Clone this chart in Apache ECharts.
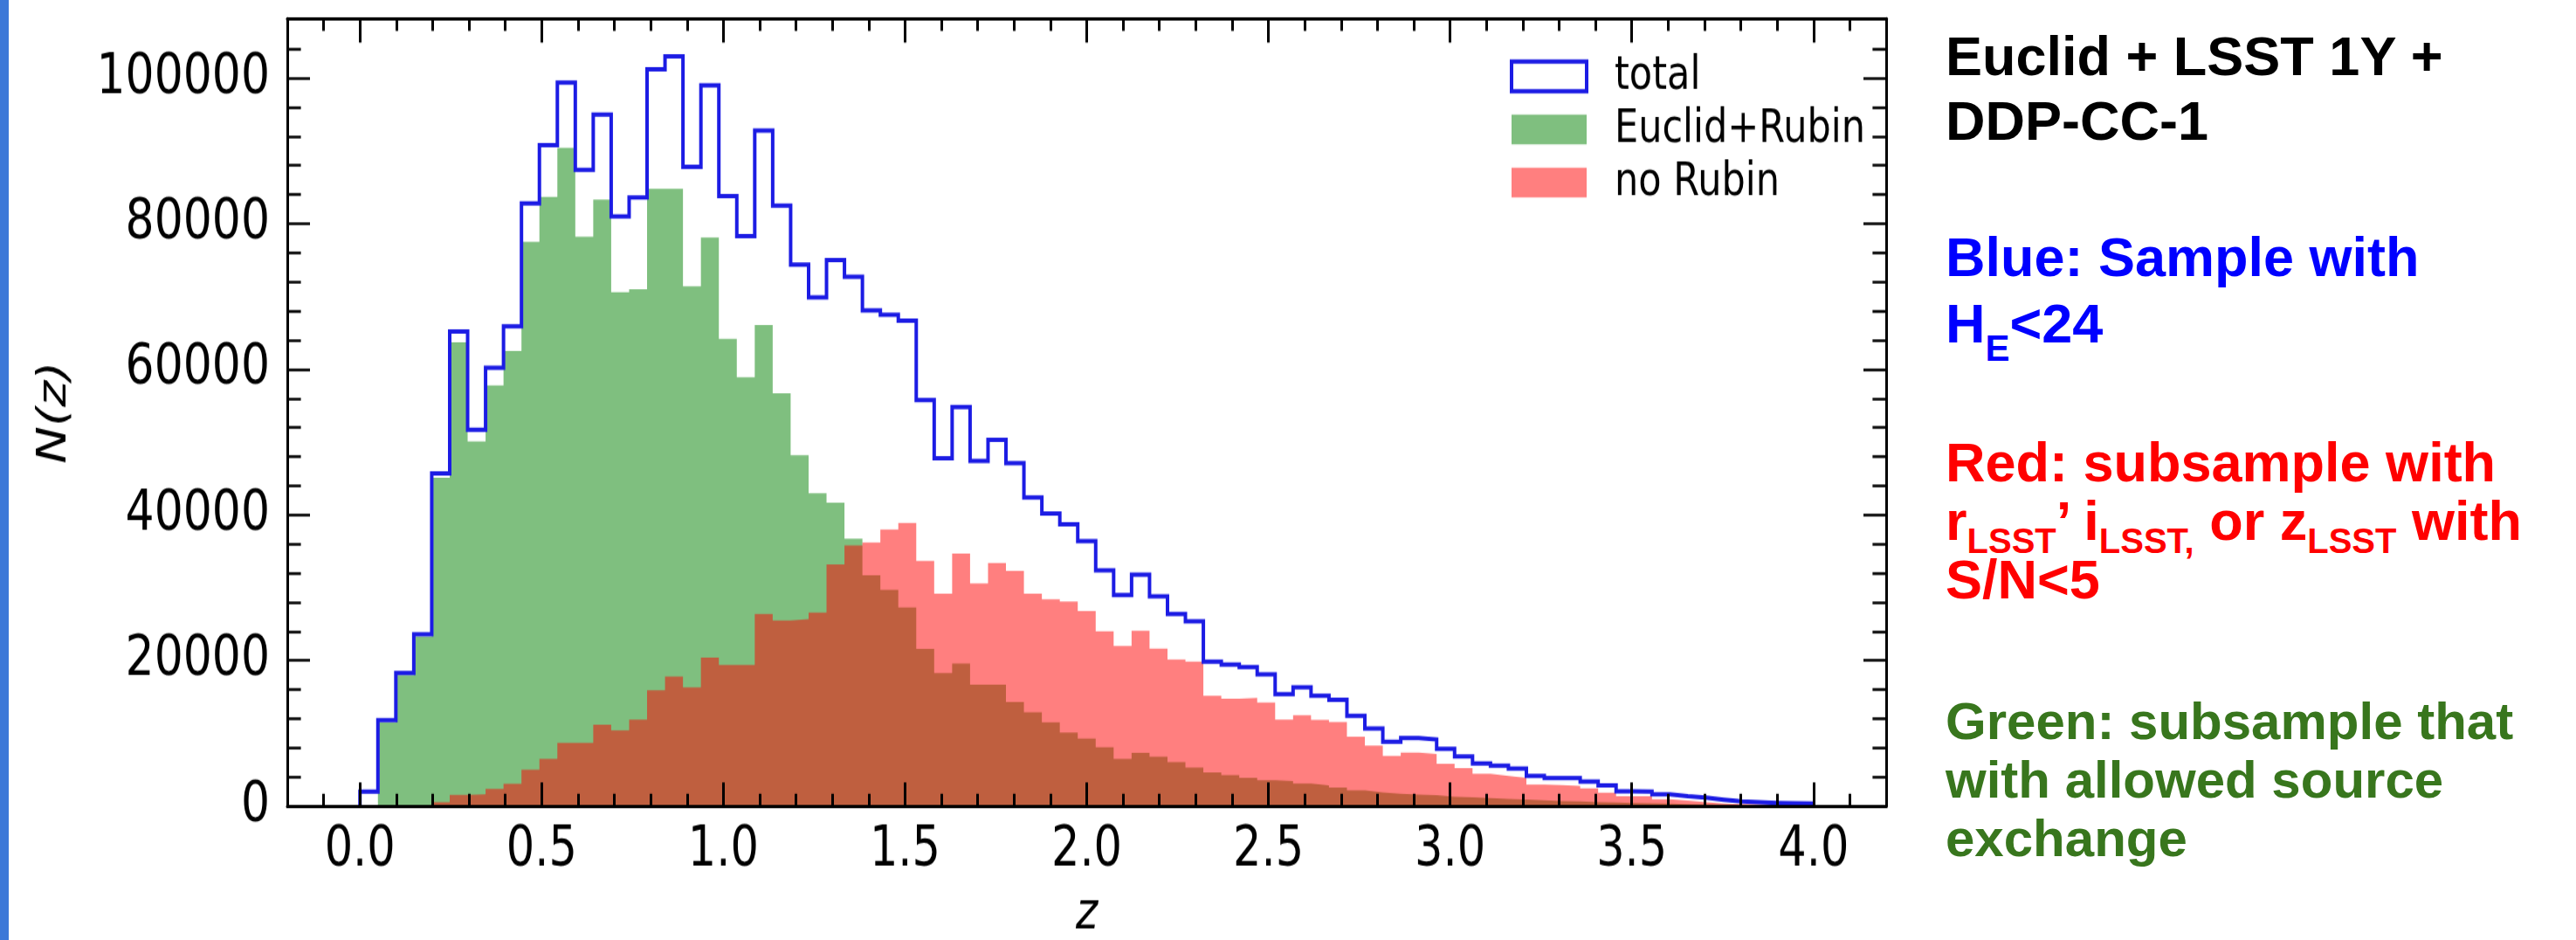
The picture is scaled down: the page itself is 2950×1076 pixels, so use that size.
<!DOCTYPE html>
<html>
<head>
<meta charset="utf-8">
<title>N(z) – Euclid + LSST 1Y + DDP-CC-1</title>
<script src="https://cdn.jsdelivr.net/npm/echarts@6/dist/echarts.min.js"></script>
<style>
  html, body { margin: 0; padding: 0; background: #fff; }
  body { width: 2950px; height: 1076px; position: relative; overflow: hidden; }
  /* the plot is laid out at 1/1.24 height and stretched vertically */
  #chart { position: absolute; left: 0; top: 0; width: 2200px; height: 867.742px;
           transform: scaleY(1.24); transform-origin: 0 0; }
  #strip { position: absolute; left: 0; top: 0; width: 10px; height: 1076px; background: #3c78d8; z-index: 2; }
  #notes { position: absolute; left: 2228px; top: 0; width: 720px; height: 1076px; z-index: 2;
           font-family: "Liberation Sans", Arial, sans-serif; font-weight: bold; }
  #notes .ln { position: absolute; left: 0; font-size: 63px; line-height: 76px; white-space: nowrap; }
  #notes .ln.small { font-size: 60px; }
  #notes .sub { position: relative; top: 21px; font-size: 42px; }
  #notes .sub.tight { top: 15px; font-size: 40px; }
</style>
</head>
<body>
<div id="strip"></div>
<div id="chart"></div>
<div id="notes">
  <div class="ln" style="top:26px;color:#000">Euclid + LSST 1Y +</div>
  <div class="ln" style="top:100px;color:#000">DDP-CC-1</div>
  <div class="ln" style="top:256px;color:#0000ff">Blue: Sample with</div>
  <div class="ln" style="top:332px;color:#0000ff">H<span class="sub">E</span>&lt;24</div>
  <div class="ln" style="top:491px;color:#ff0000">Red: subsample with</div>
  <div class="ln" style="top:558px;color:#ff0000">r<span class="sub tight">LSST</span>’ i<span class="sub tight">LSST,</span> or z<span class="sub tight">LSST</span> with</div>
  <div class="ln" style="top:625px;color:#ff0000">S/N&lt;5</div>
  <div class="ln small" style="top:788px;color:#38761d">Green: subsample that</div>
  <div class="ln small" style="top:855px;color:#38761d">with allowed source</div>
  <div class="ln small" style="top:922px;color:#38761d">exchange</div>
</div>
<script>
// Histogram of redshift z: 81 equal bins spanning 0 – 4
const Z_MIN = 0;
const Z_MAX = 4;
const BIN_COUNT = 81;

// counts per bin, total sample (H_E < 24)
const totalCounts = [
  2000, 11800, 18300, 23600, 45700, 65200, 51700, 60200, 65900, 82800,
  90800, 99400, 87400, 95000, 81000, 83600, 101200, 103000, 87800, 99000,
  83800, 78300, 92800, 82500, 74400, 69900, 75000, 72700, 68100, 67500,
  66700, 55800, 47800, 54800, 47400, 50300, 47100, 42400, 40200, 38700,
  36400, 32400, 29000, 31800, 28800, 26400, 25400, 19850, 19450, 19100,
  18100, 15400, 16300, 15150, 14600, 12400, 10650, 8850, 9360, 9160,
  7880, 6840, 5880, 5560, 5160, 4160, 3840, 3840, 3360, 2840,
  2040, 2000, 1640, 1360, 1160, 880, 650, 550, 450, 400,
  350
];

// counts per bin, Euclid+Rubin subsample
const euclidRubinCounts = [
  0, 11500, 18000, 23300, 45100, 63700, 50100, 57800, 62500, 77500,
  83700, 90400, 78200, 83300, 70600, 71000, 84800, 84800, 71400, 78100,
  64200, 58900, 66100, 56700, 48200, 43000, 41700, 36750, 31700, 29700,
  27300, 21600, 18300, 19600, 16700, 16700, 14300, 12900, 11500, 10100,
  9300, 8100, 6500, 7300, 6800, 6050, 5300, 4640, 4250, 3900,
  3550, 3450, 3100, 2850, 2550, 2180, 1900, 1700, 1600, 1500,
  1300, 1200, 1100, 1000, 900, 800, 700, 650, 550, 500,
  450, 400, 350, 300, 250, 200, 160, 130, 100, 80,
  50
];

// counts per bin, no-Rubin subsample
const noRubinCounts = [
  0, 0, 0, 0, 560, 1560, 1640, 2360, 3080, 5000,
  6500, 8700, 8700, 11200, 10400, 11900, 15900, 17800, 16300, 20400,
  19400, 19400, 26400, 25500, 25700, 26600, 33200, 35800, 36200, 38000,
  38900, 33700, 29200, 34700, 30600, 33400, 32300, 29200, 28400, 28100,
  26800, 24000, 22000, 24100, 21640, 20150, 19850, 15150, 14750, 14850,
  14250, 11900, 12500, 11850, 11550, 9550, 8320, 6900, 7360, 7160,
  5840, 5240, 4440, 4160, 3880, 2960, 2880, 2760, 2440, 1860,
  1360, 1360, 960, 760, 560, 360, 300, 250, 200, 150,
  100
];

// axis ticks
const xMajorTicks = [0, 0.5, 1, 1.5, 2, 2.5, 3, 3.5, 4];
const xMinorTicks = [-0.1, 0.1, 0.2, 0.3, 0.4, 0.6, 0.7, 0.8, 0.9, 1.1, 1.2, 1.3, 1.4,
  1.6, 1.7, 1.8, 1.9, 2.1, 2.2, 2.3, 2.4, 2.6, 2.7, 2.8, 2.9, 3.1, 3.2, 3.3, 3.4,
  3.6, 3.7, 3.8, 3.9, 4.1];
const yMajorTicks = [0, 20000, 40000, 60000, 80000, 100000];
const yMinorTicks = [4000, 8000, 12000, 16000, 24000, 28000, 32000, 36000, 44000, 48000,
  52000, 56000, 64000, 68000, 72000, 76000, 84000, 88000, 92000, 96000, 104000];

const X_RANGE = [-0.2, 4.2];
const Y_RANGE = [0, 108160];

const BIN_WIDTH = (Z_MAX - Z_MIN) / BIN_COUNT;

// outline of a histogram as step points: left edge of every bin, closed at both ends
function stepPoints(counts) {
  const pts = [[Z_MIN, 0]];
  counts.forEach((c, i) => pts.push([Z_MIN + i * BIN_WIDTH, c]));
  pts.push([Z_MIN + counts.length * BIN_WIDTH, counts[counts.length - 1]]);
  pts.push([Z_MIN + counts.length * BIN_WIDTH, 0]);
  return pts;
}

const FONT = 'DejaVu Sans';
const BLUE = '#1c1ce4';
const GREEN_FILL = 'rgba(0,128,0,0.5)';
const RED_FILL = 'rgba(255,0,0,0.5)';

function xAxisDef(position, ticks, len, withLine, withLabels) {
  return {
    type: 'value', position, min: X_RANGE[0], max: X_RANGE[1], z: 10,
    axisLine: { show: withLine, onZero: false, lineStyle: { color: '#000', width: 3 } },
    axisTick: { show: true, inside: true, length: len, customValues: ticks,
                lineStyle: { color: '#000', width: 3 } },
    axisLabel: withLabels ? {
      show: true, customValues: ticks, margin: 16, color: '#000',
      fontFamily: FONT, fontSize: 51, formatter: v => Number(v).toFixed(1)
    } : { show: false },
    splitLine: { show: false }
  };
}

function yAxisDef(position, ticks, len, withLine, withLabels) {
  return {
    type: 'value', position, min: Y_RANGE[0], max: Y_RANGE[1], z: 10,
    axisLine: { show: withLine, onZero: false, lineStyle: { color: '#000', width: 3 } },
    axisTick: { show: true, inside: true, length: len, customValues: ticks,
                lineStyle: { color: '#000', width: 2.5 } },
    axisLabel: withLabels ? {
      show: true, customValues: ticks, margin: 20, color: '#000',
      fontFamily: FONT, fontSize: 52, formatter: v => String(Math.round(v))
    } : { show: false },
    splitLine: { show: false }
  };
}

const xMain = xAxisDef('bottom', xMajorTicks, 22, true, true);
xMain.name = 'z';
xMain.nameLocation = 'middle';
xMain.nameGap = 76;
xMain.nameTextStyle = { fontFamily: FONT, fontStyle: 'italic', fontSize: 48, color: '#000' };

const yMain = yAxisDef('left', yMajorTicks, 26, true, true);
yMain.name = 'N(z)';
yMain.nameLocation = 'middle';
yMain.nameGap = 243;
yMain.nameTextStyle = { fontFamily: FONT, fontStyle: 'italic', fontSize: 46, color: '#000' };

const chart = echarts.init(document.getElementById('chart'), null, { renderer: 'canvas' });
chart.setOption({
  animation: false,
  backgroundColor: '#fff',
  grid: { left: 329, top: 17.26, width: 1831, height: 726.9, containLabel: false, outerBoundsMode: 'none' },
  xAxis: [
    xMain,
    xAxisDef('bottom', xMinorTicks, 11.3, false, false),
    xAxisDef('top', xMajorTicks, 22, true, false),
    xAxisDef('top', xMinorTicks, 11.3, false, false)
  ],
  yAxis: [
    yMain,
    yAxisDef('left', yMinorTicks, 15.6, false, false),
    yAxisDef('right', yMajorTicks, 26, true, false),
    yAxisDef('right', yMinorTicks, 15.6, false, false)
  ],
  legend: {
    left: 1729, top: 49, orient: 'vertical', padding: 0,
    itemWidth: 86, itemHeight: 27.4, itemGap: 6, selectedMode: false,
    textStyle: { fontFamily: FONT, fontSize: 43, color: '#000', padding: [0, 0, 0, 27] },
    data: [
      { name: 'total', icon: 'rect',
        itemStyle: { color: 'rgba(255,255,255,0)', borderColor: BLUE, borderWidth: 4 } },
      { name: 'Euclid+Rubin', icon: 'rect', itemStyle: { color: GREEN_FILL, borderWidth: 0 } },
      { name: 'no Rubin', icon: 'rect', itemStyle: { color: RED_FILL, borderWidth: 0 } }
    ]
  },
  series: [
    {
      name: 'Euclid+Rubin', type: 'line', step: 'end', symbol: 'none', z: 2,
      data: stepPoints(euclidRubinCounts),
      itemStyle: { color: GREEN_FILL },
      lineStyle: { width: 0, opacity: 0 },
      areaStyle: { color: GREEN_FILL, opacity: 1 }
    },
    {
      name: 'no Rubin', type: 'line', step: 'end', symbol: 'none', z: 3,
      data: stepPoints(noRubinCounts),
      itemStyle: { color: RED_FILL },
      lineStyle: { width: 0, opacity: 0 },
      areaStyle: { color: RED_FILL, opacity: 1 }
    },
    {
      name: 'total', type: 'line', step: 'end', symbol: 'none', z: 4,
      data: stepPoints(totalCounts),
      itemStyle: { color: BLUE },
      lineStyle: { color: BLUE, width: 4, join: 'miter' }
    }
  ]
});
</script>
</body>
</html>
